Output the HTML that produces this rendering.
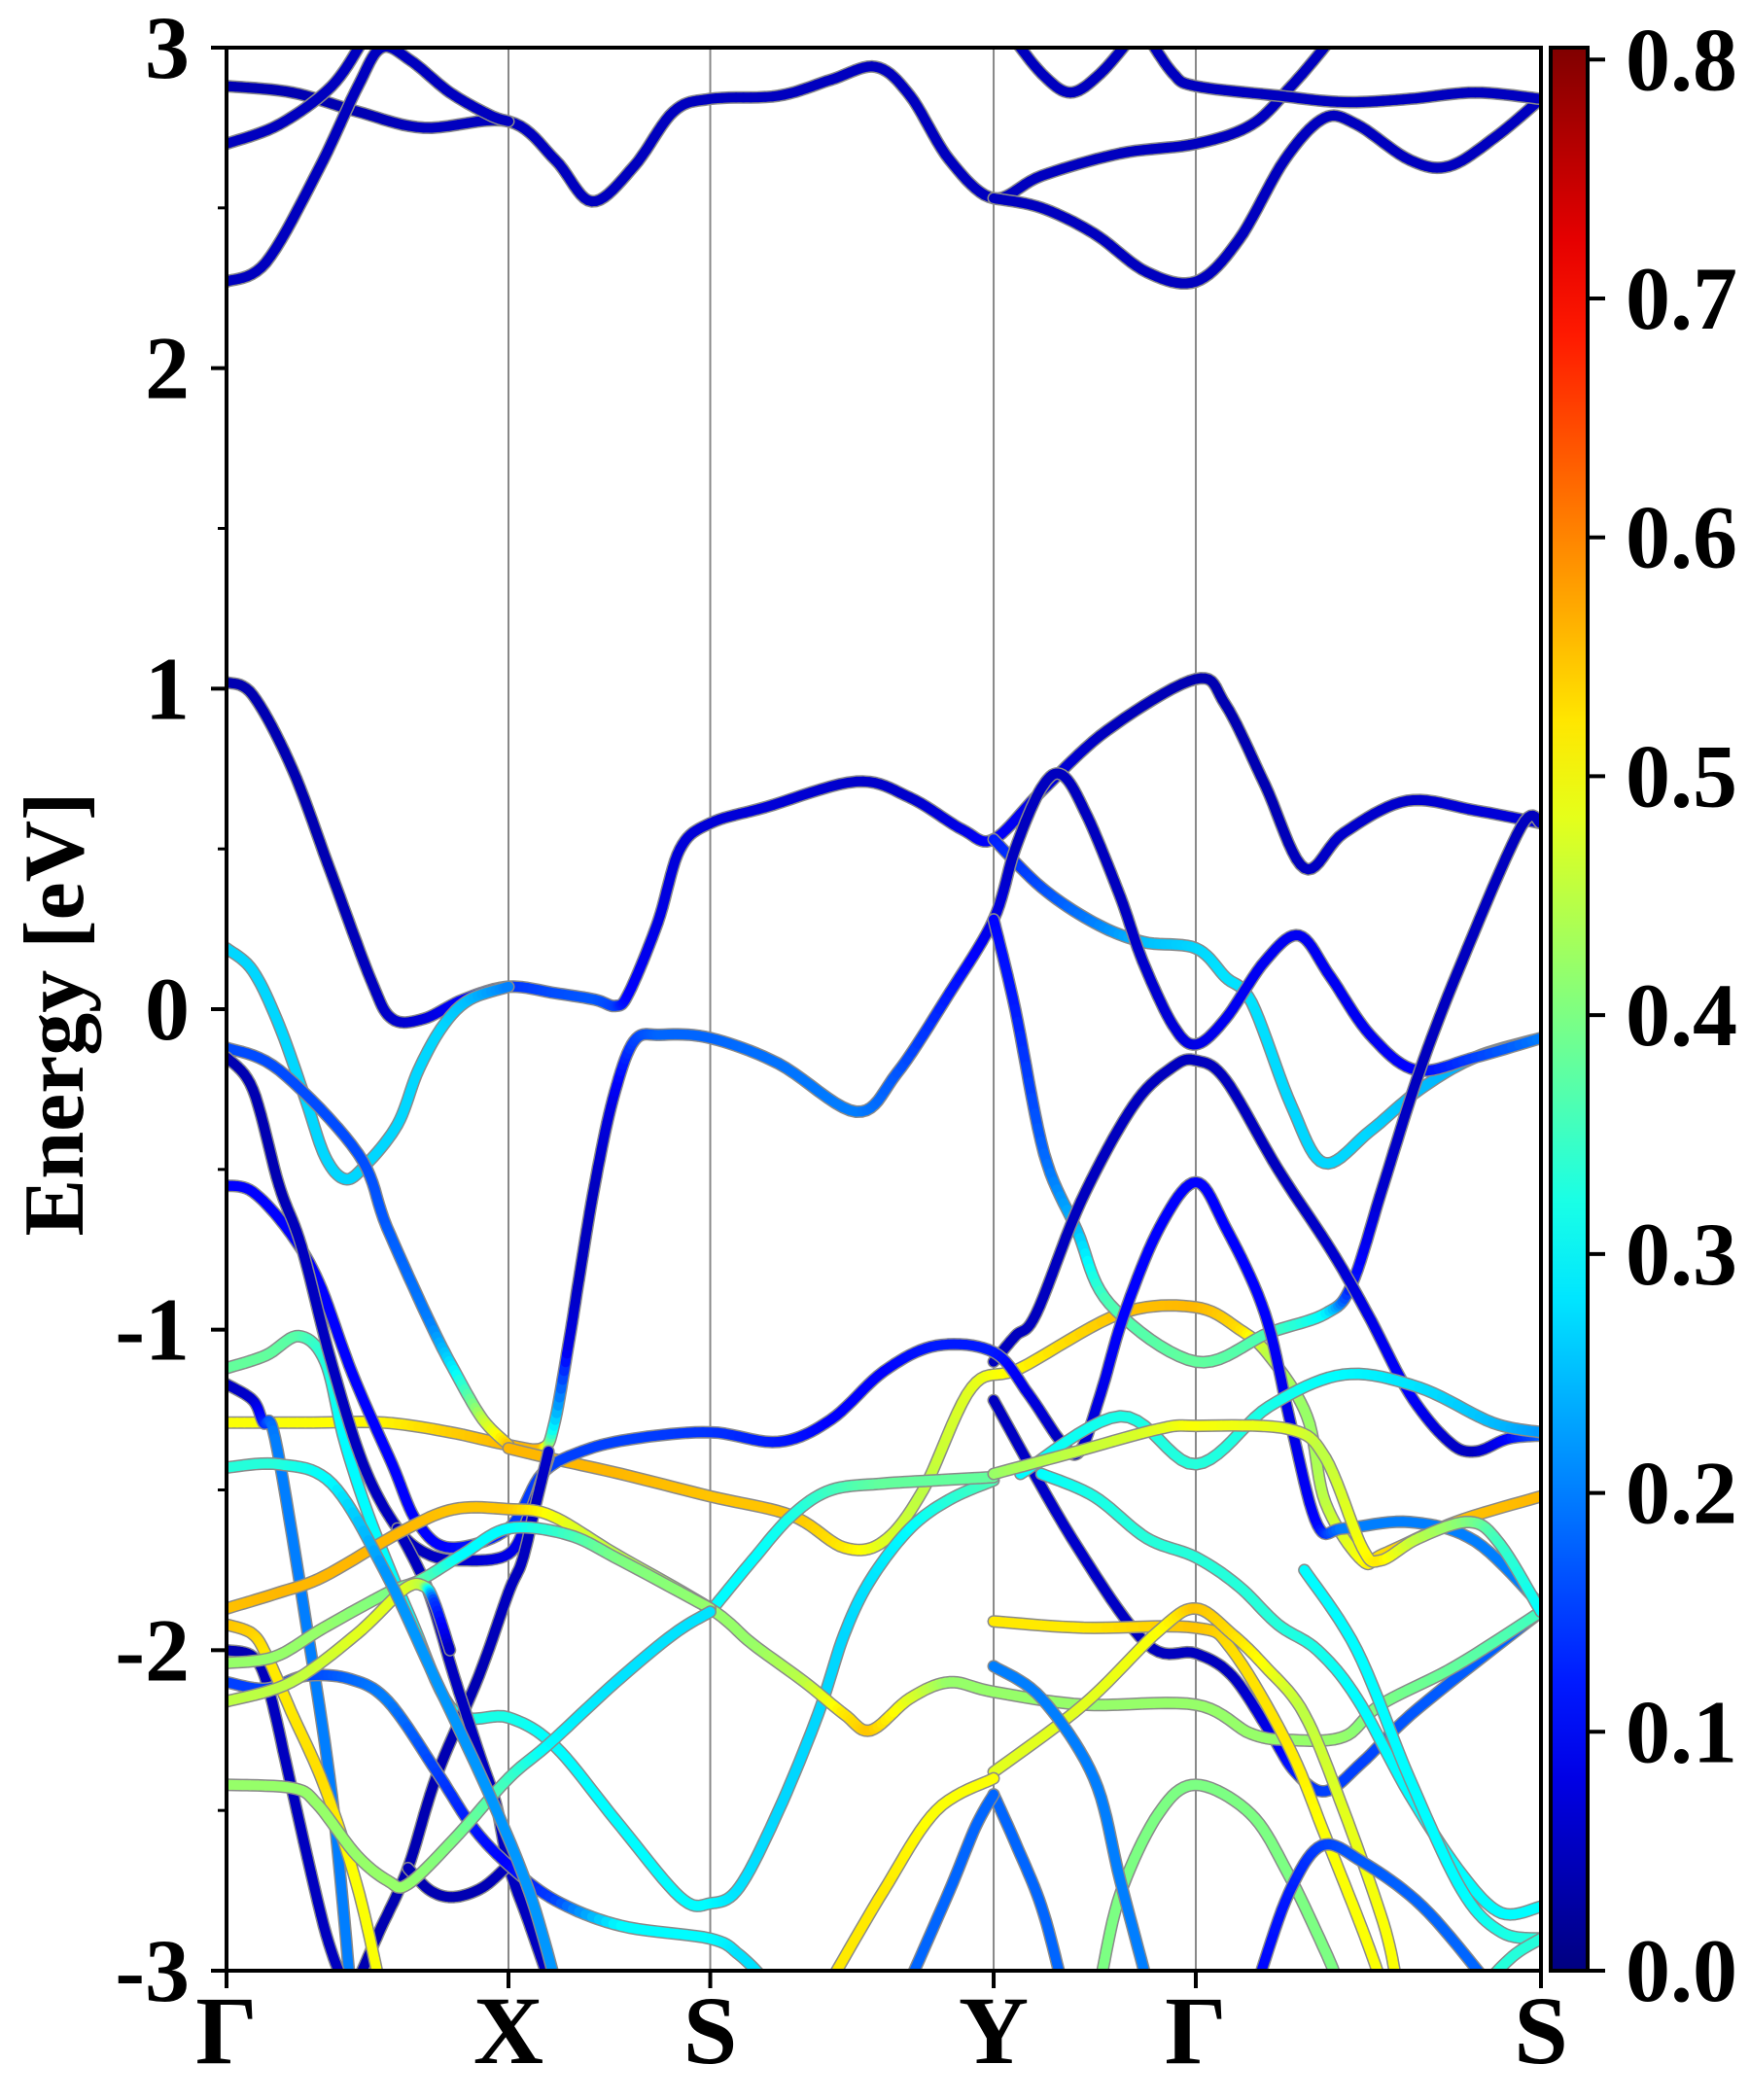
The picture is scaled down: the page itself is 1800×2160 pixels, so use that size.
<!DOCTYPE html>
<html><head><meta charset="utf-8"><style>
html,body{margin:0;padding:0;background:#fff;}
svg{display:block;}
text{font-family:"Liberation Serif",serif;font-weight:bold;fill:#000;}
</style></head><body>
<svg id="chart" xmlns="http://www.w3.org/2000/svg" width="1800" height="2160" viewBox="0 0 1800 2160">
<defs><clipPath id="plotclip"><rect x="233" y="49" width="1352" height="1978"/></clipPath>
<linearGradient id="jetgrad" x1="0" y1="1" x2="0" y2="0"></linearGradient></defs>
<g id="vlines"></g>
<g id="bands" clip-path="url(#plotclip)"></g>
<g id="axes"></g>
<g id="cbar"></g>
<text x="0" y="0" font-size="88" text-anchor="middle" transform="translate(85,1043) rotate(-90)">Energy [eV]</text>
</svg>
<script>
const kTicks=[0,0.2145,0.368,0.5836,0.7374,1];
const kLabels=["Γ","X","S","Y","Γ","S"];
const yTicks=[-3,-2,-1,0,1,2,3];
const yMinor=[-2.5,-1.5,-0.5,0.5,1.5,2.5];
const cbTicks=[0,0.1,0.2,0.3,0.4,0.5,0.6,0.7,0.8];
const cbLabels=["0.0","0.1","0.2","0.3","0.4","0.5","0.6","0.7","0.8"];
const VMAX=0.805;

const band01=[[0,2.88,.04],[.05,2.86,.04],[.1,2.8,.04],[.15,2.75,.05],[.2145,2.77,.05],[.25,2.65,.05],[.278,2.52,.05],[.31,2.63,.05],[.34,2.8,.05],[.368,2.84,.05],[.42,2.85,.05],[.46,2.9,.05],[.494,2.94,.05],[.52,2.85,.05],[.55,2.65,.05],[.5836,2.53,.05],[.62,2.6,.05],[.68,2.67,.05],[.7374,2.7,.05],[.78,2.76,.05],[.81,2.88,.05],[.835,3.0,.05],[.845,3.06,.05]];
const band02=[[0,2.70,.05],[.04,2.76,.05],[.08,2.88,.05],[.105,3.03,.05]];
const band03=[[0,2.27,.05],[.03,2.33,.05],[.07,2.62,.05],[.1,2.88,.05],[.118,3.0,.05],[.14,2.96,.05],[.17,2.86,.05],[.2,2.79,.05],[.2145,2.77,.05]];
const band04=[[.5836,2.53,.05],[.62,2.5,.05],[.66,2.42,.05],[.7,2.3,.05],[.7374,2.27,.05],[.77,2.4,.05],[.805,2.65,.05],[.835,2.78,.05],[.86,2.76,.05],[.9,2.65,.05],[.93,2.63,.05],[.965,2.72,.05],[1,2.84,.05]];
const band05a=[[.595,3.05,.05],[.62,2.92,.05],[.642,2.86,.05],[.665,2.92,.05],[.69,3.04,.05]];
const band05b=[[.7,3.04,.05],[.72,2.92,.05],[.7374,2.88,.05],[.8,2.85,.05],[.85,2.83,.05],[.9,2.84,.05],[.95,2.86,.05],[1,2.84,.05]];
const band07=[[0,1.02,.04],[.02,.98,.04],[.05,.75,.04],[.08,.42,.04],[.11,.09,.05],[.126,-.03,.06],[.15,-.03,.07],[.18,.03,.1],[.2145,.07,.14],[.25,.05,.16],[.28,.03,.17],[.296,.01,.15],[.306,.05,.1],[.328,.27,.08],[.345,.5,.07],[.368,.58,.07],[.41,.63,.07],[.479,.71,.06],[.52,.66,.06],[.56,.56,.08],[.5836,.53,.1],[.62,.68,.08],[.67,.87,.05],[.7374,1.03,.04],[.76,.95,.04],[.79,.7,.04],[.82,.44,.05],[.85,.55,.06],[.898,.65,.06],[.95,.62,.07],[1,.58,.07]];
const band08=[[.5836,.53,.12],[.62,.38,.16],[.66,.27,.2],[.697,.21,.25],[.7374,.19,.27],[.76,.1,.28],[.78,.02,.28],[.81,-.3,.27],[.835,-.48,.27],[.87,-.38,.27],[.908,-.25,.25],[.95,-.15,.24],[1,-.09,.22]];
const band09=[[0,.19,.27],[.02,.12,.27],[.04,-.05,.27],[.06,-.28,.27],[.075,-.46,.27],[.09,-.53,.27],[.105,-.49,.27],[.13,-.36,.27],[.146,-.19,.27],[.165,-.05,.27],[.185,.03,.25],[.2145,.07,.2]];
const band11=[[0,-1.29,.5],[.06,-1.29,.5],[.12,-1.29,.51],[.17,-1.32,.54],[.2145,-1.36,.56],[.24,-1.37,.56],[.249,-1.30,.3],[.26,-1.05,.08],[.269,-.82,.05],[.28,-.55,.05],[.294,-.28,.08],[.31,-.1,.15],[.33,-.08,.18],[.368,-.09,.18],[.42,-.17,.19],[.479,-.32,.2],[.51,-.2,.17],[.55,.05,.12],[.5836,.28,.08],[.6,.5,.05],[.62,.69,.05],[.636,.73,.05],[.655,.6,.05],[.68,.35,.05],[.697,.15,.06],[.72,-.05,.07],[.7374,-.11,.08],[.76,-.03,.09],[.79,.15,.09],[.816,.23,.09],[.84,.1,.09],[.87,-.08,.09],[.905,-.19,.1],[.95,-.15,.15],[1,-.09,.2]];
const bandV2=[[0,-.12,.16],[.04,-.19,.16],[.1,-.45,.16],[.122,-.68,.17],[.155,-.98,.2],[.175,-1.14,.3],[.195,-1.28,.45],[.2145,-1.36,.55]];
const bandOr=[[.2145,-1.37,.56],[.245,-1.40,.56],[.3,-1.45,.56],[.368,-1.52,.55],[.43,-1.58,.55],[.47,-1.68,.52],[.5,-1.66,.48],[.53,-1.5,.45],[.567,-1.18,.48],[.604,-1.12,.51],[.68,-.95,.55],[.7374,-.93,.56],[.771,-1.0,.53],[.793,-1.08,.45],[.822,-1.27,.42],[.836,-1.54,.45],[.864,-1.72,.5],[.88,-1.7,.53],[.935,-1.6,.55],[1,-1.52,.56]];
const bandYc=[[.5836,.28,.1],[.6,0,.12],[.622,-.45,.18],[.647,-.69,.25],[.672,-.92,.36],[.7374,-1.1,.38],[.793,-1.01,.36],[.836,-.95,.3],[.856,-.86,.12],[.88,-.55,.06],[.908,-.19,.05],[.94,.15,.05],[.985,.57,.05],[1,.58,.05]];
const bandG15=[[.5836,-1.1,.05],[.6,-1.02,.05],[.616,-.95,.05],[.65,-.6,.05],[.69,-.3,.05],[.72,-.18,.05],[.7374,-.16,.05],[.76,-.22,.05],[.8,-.5,.05],[.84,-.75,.06],[.868,-.95,.08],[.9,-1.2,.1],[.93,-1.35,.06],[.95,-1.38,.05],[.975,-1.34,.1],[1,-1.33,.18]];
const bandG55=[[0,-.55,.1],[.02,-.57,.1],[.047,-.69,.1],[.07,-.85,.1],[.096,-1.14,.1],[.126,-1.42,.1],[.145,-1.6,.1],[.17,-1.68,.1],[.2145,-1.62,.14],[.24,-1.45,.15],[.27,-1.38,.15],[.31,-1.34,.15],[.368,-1.32,.14],[.42,-1.35,.12],[.46,-1.28,.1],[.5,-1.13,.1],[.54,-1.05,.12],[.5836,-1.07,.12],[.61,-1.2,.08],[.635,-1.35,.05],[.649,-1.38,.05],[.665,-1.2,.08],[.683,-.95,.1],[.71,-.68,.1],[.7374,-.54,.1],[.76,-.68,.1],[.79,-.95,.1],[.81,-1.3,.08],[.83,-1.61,.1],[.85,-1.62,.2],[.9,-1.6,.2],[.95,-1.66,.2],[1,-1.86,.2]];
const bandZ1=[[.5836,-1.22,.05],[.643,-1.65,.06],[.7,-1.98,.05],[.7374,-2.01,.05],[.765,-2.08,.05],[.793,-2.25,.08],[.813,-2.38,.12],[.836,-2.44,.15],[.864,-2.35,.15],[.907,-2.18,.17],[1,-1.88,.18]];
const bandG1=[[0,-1.12,.38],[.03,-1.08,.38],[.055,-1.02,.37],[.075,-1.1,.33],[.09,-1.35,.3],[.11,-1.6,.3],[.14,-1.9,.3],[.173,-2.19,.32],[.2145,-2.21,.32],[.25,-2.3,.3],[.296,-2.53,.3],[.345,-2.77,.3],[.368,-2.79,.3],[.39,-2.74,.28],[.42,-2.5,.27],[.45,-2.2,.27],[.47,-1.95,.27],[.49,-1.78,.28],[.52,-1.62,.3],[.55,-1.53,.33],[.5836,-1.47,.36]];
const bandCy=[[.368,-1.88,.3],[.4,-1.72,.3],[.43,-1.58,.32],[.46,-1.5,.35],[.5,-1.48,.38],[.54,-1.47,.38],[.5836,-1.46,.38]];
const bandB2=[[0,-1.17,.05],[.02,-1.22,.06],[.028,-1.29,.12],[.037,-1.34,.2],[.06,-1.9,.2],[.08,-2.45,.2],[.094,-3.04,.2]];
const band3a=[[0,-.15,.04],[.02,-.25,.04],[.04,-.55,.04],[.057,-.74,.05],[.079,-1.09,.05],[.104,-1.42,.05],[.13,-1.62,.05],[.153,-1.70,.05],[.18,-1.72,.06],[.2145,-1.7,.08],[.23,-1.58,.08],[.245,-1.4,.08]];
const band3b=[[.099,-3.04,.04],[.116,-2.88,.04],[.138,-2.68,.04],[.16,-2.39,.04],[.192,-2.08,.04],[.2145,-1.82,.05],[.225,-1.72,.05],[.235,-1.55,.05],[.245,-1.38,.06]];
const band3c=[[0,-2.0,.04],[.02,-2.02,.04],[.032,-2.12,.05],[.049,-2.42,.05],[.074,-2.86,.05],[.089,-3.04,.05]];
const band3d=[[.13,-1.62,.05],[.153,-1.81,.05],[.173,-2.08,.05],[.192,-2.32,.05],[.205,-2.48,.05],[.2145,-2.67,.05],[.23,-2.85,.05],[.246,-3.04,.05]];
const band3e=[[.138,-2.68,.04],[.155,-2.75,.04],[.173,-2.77,.04],[.195,-2.74,.04],[.2145,-2.67,.05]];
const band4=[[0,-2.1,.15],[.03,-2.12,.15],[.06,-2.08,.15],[.094,-2.09,.18],[.123,-2.16,.2],[.16,-2.38,.15],[.187,-2.55,.12],[.2145,-2.67,.1],[.25,-2.78,.15],[.3,-2.86,.3],[.368,-2.9,.3],[.39,-2.95,.28],[.41,-3.03,.28]];
const band5=[[0,-1.87,.55],[.04,-1.82,.56],[.074,-1.77,.56],[.133,-1.63,.56],[.173,-1.56,.55],[.2145,-1.56,.55],[.247,-1.58,.5],[.296,-1.70,.45],[.368,-1.87,.42],[.4,-1.98,.42],[.44,-2.1,.45],[.47,-2.2,.52],[.49,-2.25,.55],[.52,-2.15,.48],[.55,-2.1,.42],[.5836,-2.13,.42],[.652,-2.17,.42],[.7374,-2.17,.42],[.779,-2.26,.42],[.808,-2.28,.42],[.85,-2.27,.42],[.878,-2.17,.4],[.935,-2.05,.38],[1,-1.88,.35]];
const band6=[[0,-1.92,.55],[.02,-1.95,.54],[.032,-2.03,.52],[.049,-2.19,.52],[.074,-2.42,.53],[.099,-2.73,.5],[.116,-3.03,.5]];
const band7a=[[0,-2.04,.42],[.037,-2.02,.42],[.074,-1.93,.42],[.123,-1.82,.4],[.148,-1.78,.38],[.18,-1.7,.3],[.2145,-1.62,.3],[.26,-1.64,.35],[.3,-1.72,.4],[.368,-1.87,.42]];
const band7b=[[0,-2.16,.45],[.049,-2.1,.45],[.099,-1.95,.48],[.135,-1.81,.48],[.15,-1.8,.45],[.158,-1.85,.15],[.17,-2.0,.05]];
const band8=[[0,-2.42,.42],[.05,-2.43,.42],[.069,-2.48,.42],[.099,-2.64,.42],[.123,-2.72,.42],[.138,-2.73,.42],[.173,-2.59,.4],[.2145,-2.40,.35],[.246,-2.29,.3],[.296,-2.1,.28],[.34,-1.95,.28],[.368,-1.88,.28]];
const band9=[[0,-1.43,.33],[.04,-1.42,.33],[.08,-1.48,.3],[.12,-1.75,.22],[.16,-2.1,.22],[.2,-2.45,.22],[.23,-2.75,.22],[.25,-3.03,.22]];
const bandZ4=[[.604,-1.45,.3],[.68,-1.27,.32],[.7374,-1.42,.33],[.793,-1.24,.32],[.85,-1.14,.3],[.907,-1.18,.28],[.963,-1.29,.25],[1,-1.32,.22]];
const bandZ5=[[.5836,-1.45,.42],[.638,-1.39,.45],[.709,-1.31,.48],[.7374,-1.30,.5],[.808,-1.31,.48],[.836,-1.4,.45],[.864,-1.68,.5],[.878,-1.72,.52],[.907,-1.65,.45],[.946,-1.6,.4],[.969,-1.67,.35],[1,-1.88,.3]];
const bandZ7=[[.62,-1.45,.3],[.66,-1.52,.32],[.7,-1.65,.33],[.7374,-1.71,.33],[.77,-1.8,.33],[.8,-1.92,.33],[.83,-2.0,.32],[.86,-2.15,.3],[.9,-2.45,.3],[.94,-2.7,.3],[.97,-2.82,.3],[1,-2.8,.3]];
const bandZ8=[[.5836,-1.91,.52],[.652,-1.93,.52],[.7374,-1.93,.55],[.765,-2.0,.53],[.808,-2.30,.52],[.836,-2.58,.5],[.864,-2.87,.5],[.878,-3.03,.5]];
const bandZ9=[[.5836,-2.38,.48],[.652,-2.17,.48],[.709,-1.94,.5],[.7374,-1.87,.55],[.765,-1.95,.53],[.79,-2.05,.5],[.82,-2.2,.45],[.85,-2.5,.48],[.88,-2.85,.5],[.89,-3.03,.5]];
const bandZ11=[[.665,-3.03,.4],[.68,-2.76,.4],[.709,-2.51,.4],[.7374,-2.42,.4],[.779,-2.51,.4],[.808,-2.7,.4],[.836,-2.94,.4],[.845,-3.03,.4]];
const bandZ12a=[[.5836,-2.45,.18],[.6,-2.6,.18],[.62,-2.8,.18],[.635,-3.03,.18]];
const bandZ12b=[[.52,-3.03,.18],[.55,-2.75,.18],[.57,-2.55,.18],[.5836,-2.45,.18]];
const bandZ12c=[[.5836,-2.05,.2],[.62,-2.15,.2],[.66,-2.4,.2],[.68,-2.72,.2],[.7,-3.03,.2]];
const bandZ13=[[.785,-3.03,.1],[.808,-2.76,.12],[.833,-2.61,.15],[.864,-2.66,.17],[.91,-2.8,.18],[.958,-3.03,.18]];
const bandZ14a=[[.82,-1.75,.3],[.86,-2.0,.3],[.9,-2.4,.3],[.94,-2.75,.3],[.97,-2.88,.32],[1,-2.9,.33]];
const bandZ14b=[[.96,-3.03,.33],[.98,-2.95,.33],[1,-2.9,.33]];
const bandYel=[[.46,-3.03,.52],[.5,-2.75,.52],[.54,-2.5,.5],[.5836,-2.4,.5]];

const allBands=[band01,band02,band03,band04,band05a,band05b,band07,band08,band09,band11,bandV2,bandOr,bandYc,bandG15,bandG55,bandZ1,bandG1,bandCy,bandB2,band3a,band3b,band3c,band3d,band3e,band4,band5,band6,band7a,band7b,band8,band9,bandZ4,bandZ5,bandZ7,bandZ8,bandZ9,bandZ11,bandZ12a,bandZ12b,bandZ12c,bandZ13,bandZ14a,bandZ14b,bandYel];

const L=233,R=1585,T=49,B=2027;
const xs=k=>L+k*(R-L);
const ys=e=>T+(3-e)/6*(B-T);
const NS="http://www.w3.org/2000/svg";
function jet(v){
  let t=Math.max(0,Math.min(1,v/VMAX));
  const c=x=>Math.round(255*Math.max(0,Math.min(1,1.5-Math.abs(4*t-x))));
  return "rgb("+c(3)+","+c(2)+","+c(1)+")";
}
function mk(tag,attrs,parent){const e=document.createElementNS(NS,tag);for(const a in attrs)e.setAttribute(a,attrs[a]);parent.appendChild(e);return e;}

const gv=document.getElementById('vlines');
kTicks.slice(1,-1).forEach((k,i)=>{
  const l=mk('line',{x1:xs(k),x2:xs(k),y1:T,y2:B,stroke:'#888',"stroke-width":2},gv);
  
  
});

const gb=document.getElementById('bands');
allBands.forEach((band,bi)=>{
  const pts=band.map(p=>[xs(p[0]),ys(p[1]),p[2]]);
  const samp=[];
  for(let i=0;i<pts.length-1;i++){
    const p0=pts[Math.max(0,i-1)],p1=pts[i],p2=pts[i+1],p3=pts[Math.min(pts.length-1,i+2)];
    const N=10;
    for(let s=0;s<N;s++){
      const t=s/N,t2=t*t,t3=t2*t;
      const f=(a,b,c,d)=>0.5*((2*b)+(-a+c)*t+(2*a-5*b+4*c-d)*t2+(-a+3*b-3*c+d)*t3);
      samp.push([f(p0[0],p1[0],p2[0],p3[0]),f(p0[1],p1[1],p2[1],p3[1]),p1[2]+(p2[2]-p1[2])*t]);
    }
  }
  const last=pts[pts.length-1];samp.push(last);
  const g=mk('g',{},gb);
  
  
  mk('polyline',{points:samp.map(p=>p[0].toFixed(1)+','+p[1].toFixed(1)).join(' '),fill:'none',stroke:'#8a8a8a','stroke-width':13,'stroke-linejoin':'round','stroke-linecap':'round'},g);
  for(let i=0;i<samp.length-1;i++){
    const a=samp[i],b=samp[i+1];
    mk('line',{x1:a[0].toFixed(1),y1:a[1].toFixed(1),x2:b[0].toFixed(1),y2:b[1].toFixed(1),stroke:jet((a[2]+b[2])/2),'stroke-width':10,'stroke-linecap':'round'},g);
  }
});

const ga=document.getElementById('axes');
const frame=mk('rect',{x:L,y:T,width:R-L,height:B-T,fill:'none',stroke:'#000','stroke-width':4},ga);


yTicks.forEach(v=>{
  const y=ys(v);
  const tk=mk('line',{x1:L-16,x2:L,y1:y,y2:y,stroke:'#000','stroke-width':4},ga);
  
  
  const tx=mk('text',{x:L-38,y:y+31,'font-size':92,'text-anchor':'end'},ga);
  tx.textContent=String(v);
  
  
});
yMinor.forEach(v=>{
  const y=ys(v);
  const tk=mk('line',{x1:L-9,x2:L,y1:y,y2:y,stroke:'#000','stroke-width':3},ga);
  
  
});
kTicks.forEach((k,i)=>{
  const x=xs(k);
  const tk=mk('line',{x1:x,x2:x,y1:B,y2:B+18,stroke:'#000','stroke-width':4},ga);
  
  
  const tx=mk('text',{x:x,y:2122,'font-size':100,'text-anchor':'middle'},ga);
  tx.textContent=kLabels[i];
  
  
});

const grad=document.getElementById('jetgrad');
for(let i=0;i<=20;i++){
  mk('stop',{offset:(i/20),'stop-color':jet(VMAX*i/20)},grad);
}
const gc=document.getElementById('cbar');
const cbX=1595,cbW=38;
const cbr=mk('rect',{x:cbX,y:T,width:cbW,height:B-T,fill:'url(#jetgrad)',stroke:'#000','stroke-width':4},gc);


const cy=v=>B-(v/VMAX)*(B-T);
cbTicks.forEach((v,i)=>{
  const y=cy(v);
  const tk=mk('line',{x1:cbX+cbW,x2:cbX+cbW+18,y1:y,y2:y,stroke:'#000','stroke-width':4},gc);
  
  
  const tx=mk('text',{x:1672,y:y+31,'font-size':92,'text-anchor':'start'},gc);
  tx.textContent=cbLabels[i];
  
  
});
</script>
</body></html>
